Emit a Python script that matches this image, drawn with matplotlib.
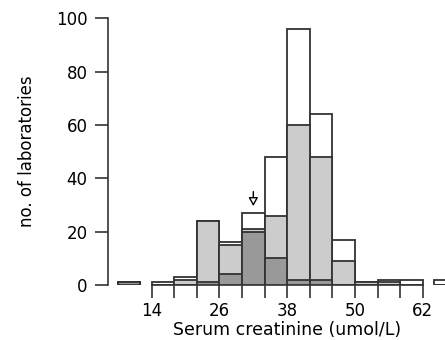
import matplotlib
matplotlib.use("Agg")
import matplotlib.pyplot as plt

plt.rcParams['font.family'] = ['DejaVu Sans']

# bin left edges (width 4)
bin_left = [8, 14, 18, 22, 26, 30, 34, 38, 42, 46, 50, 54, 58, 64]
total = [1, 1, 3, 24, 16, 27, 48, 96, 64, 17, 1, 2, 2, 2]
light = [1, 0, 2, 24, 15, 21, 26, 60, 48, 9, 1, 1, 0, 0]
dark = [1, 0, 0, 1, 4, 20, 10, 2, 2, 0, 0, 0, 0, 0]
bin_width = 4

xticks = [14, 18, 22, 26, 30, 34, 38, 42, 46, 50, 54, 58, 62]
xtick_labels = ['14', '', '', '26', '', '', '38', '', '', '50', '', '', '62']
yticks = [0, 20, 40, 60, 80, 100]

arrow_x = 32
arrow_from = 35
arrow_to = 29.6

fig = plt.figure(figsize=(4.45, 3.4), dpi=100)
ax = fig.add_axes([107.7 / 445, 55 / 340, 337.3 / 445, 266.7 / 340])

edge = '#333333'
lw = 1.3
ax.bar(bin_left, total, width=bin_width, align='edge', color='white', edgecolor=edge, linewidth=lw, zorder=2)
ax.bar(bin_left, light, width=bin_width, align='edge', color='#cccccc', edgecolor=edge, linewidth=lw, zorder=3)
ax.bar(bin_left, dark, width=bin_width, align='edge', color='#999999', edgecolor=edge, linewidth=lw, zorder=4)

ax.set_xlim(14 - 44 / 5.646, 14 + (445 - 151.7) / 5.646)
ax.set_ylim(0, 100)

for s in ['top', 'right', 'bottom']:
    ax.spines[s].set_visible(False)
ax.spines['left'].set_bounds(0, 100)
ax.spines['left'].set_color(edge)
ax.spines['left'].set_linewidth(1.2)
ax.plot([xticks[0], xticks[-1]], [0, 0], color=edge, lw=1.2, zorder=1, clip_on=False)

ax.set_xticks(xticks)
ax.set_xticklabels(xtick_labels)
ax.set_yticks(yticks)
ax.set_yticklabels([str(v) for v in yticks])
ax.tick_params(axis='both', length=9.5, width=1.2, color=edge, labelsize=12, direction='out')
ax.tick_params(axis='y', pad=5)
ax.tick_params(axis='x', pad=3)

ax.set_xlabel('Serum creatinine (umol/L)', fontsize=12.5)
ax.xaxis.set_label_coords(0.533, -0.135)
ax.set_ylabel('no. of laboratories', fontsize=12)
ax.yaxis.set_label_coords(-0.212, 0.5)

ax.annotate('', xy=(arrow_x, arrow_to), xytext=(arrow_x, arrow_from),
            arrowprops=dict(arrowstyle='-|>,head_length=0.5,head_width=0.28',
                            fc='white', ec='black', lw=1.0, shrinkA=0, shrinkB=0),
            zorder=6)

fig.savefig('out.png', dpi=100)
